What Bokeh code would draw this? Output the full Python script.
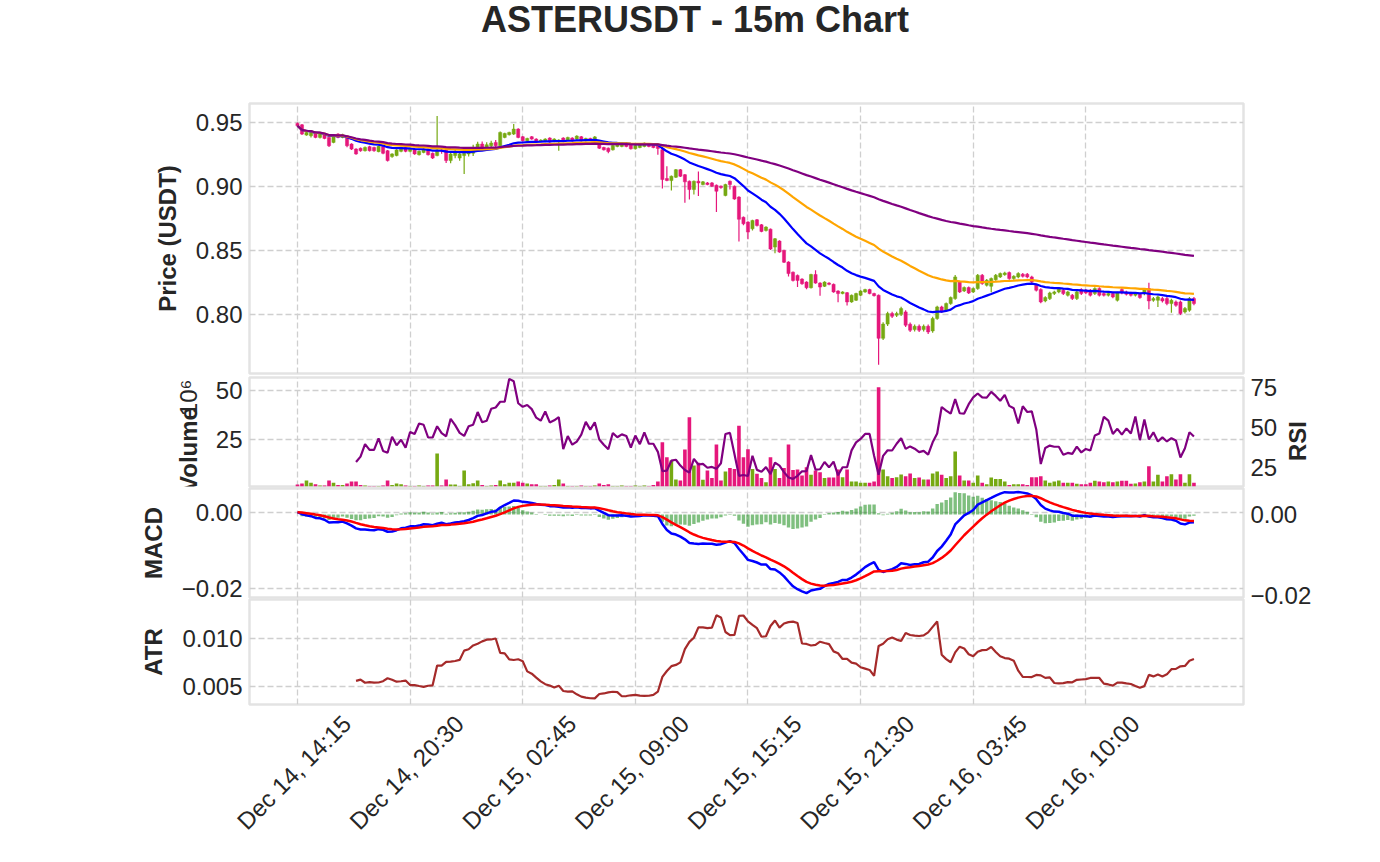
import numpy as np
import pandas as pd
from bokeh.plotting import figure
from bokeh.layouts import column, row
from bokeh.models import (Range1d, LinearAxis, FixedTicker, CustomJSTickFormatter,
                          NumeralTickFormatter, ColumnDataSource)
from bokeh.embed import file_html
from bokeh.resources import INLINE
from bokeh.core.properties import value

# ---------------- data ----------------
title_text = "ASTERUSDT - 15m Chart"
start_time = "2025-12-14 14:15"

open_ = [
    .9495, .9484, .9404, .9399, .9425, .9386, .9412, .9386, .9347, .9412,
    .9386, .9399, .9334, .9295, .9301, .9282, .9314, .9308, .9275, .9314,
    .9282, .9236, .9244, .9277, .9308, .9277, .9295, .9251, .9269, .9295,
    .9262, .9244, .9288, .9288, .9205, .9244, .9225, .9244, .9257, .9262,
    .9295, .9334, .9303, .9321, .9347, .9321, .9386, .9407, .9412, .9451,
    .9391, .9360, .9391, .9373, .9355, .9355, .9381, .9355, .9355, .9381,
    .9365, .9381, .9373, .9391, .9360, .9378, .9373, .9360, .9307, .9302,
    .9289, .9315, .9315, .9341, .9333, .9297, .9307, .9315, .9333, .9328,
    .9320, .9290, .9065, .9049, .9075, .9134, .9095, .9044, .8979, .9044,
    .9018, .9031, .9031, .9013, .9005, .8932, .9044, .9005, .8920, .8763,
    .8725, .8673, .8743, .8704, .8660, .8670, .8530, .8577, .8504, .8413,
    .8334, .8309, .8280, .8257, .8213, .8316, .8249, .8224, .8249, .8239,
    .8187, .8167, .8174, .8102, .8115, .8154, .8180, .8198, .8167, .8154,
    .7818, .7929, .8011, .7998, .8006, .8024, .7928, .7886, .7912, .7886,
    .7912, .7876, .7972, .8063, .8037, .8089, .8128, .8258, .8188, .8214,
    .8180, .8206, .8310, .8232, .8224, .8276, .8297, .8315, .8331, .8284,
    .8297, .8318, .8318, .8297, .8232, .8198, .8110, .8128, .8167, .8180,
    .8193, .8154, .8154, .8128, .8198, .8193, .8193, .8167, .8206, .8167,
    .8154, .8167, .8115, .8198, .8180, .8172, .8154, .8162, .8167, .8206,
    .8115, .8115, .8128, .8128, .8089, .8102, .8102, .8024, .8037, .8128,
]
close = [
    .9477, .9412, .9425, .9425, .9386, .9417, .9378, .9321, .9399, .9386,
    .9407, .9321, .9295, .9257, .9282, .9308, .9282, .9282, .9316, .9262,
    .9205, .9257, .9288, .9308, .9277, .9295, .9257, .9277, .9295, .9251,
    .9225, .9288, .9280, .9205, .9257, .9269, .9257, .9262, .9282, .9308,
    .9334, .9303, .9329, .9342, .9321, .9425, .9417, .9425, .9451, .9386,
    .9360, .9378, .9373, .9355, .9365, .9373, .9350, .9373, .9365, .9355,
    .9386, .9360, .9396, .9360, .9378, .9370, .9390, .9302, .9289, .9276,
    .9323, .9328, .9333, .9315, .9297, .9323, .9328, .9341, .9315, .9307,
    .9300, .9057, .9050, .9083, .9134, .9083, .9039, .8979, .9044, .9031,
    .9039, .9018, .9005, .8966, .8995, .9018, .9018, .8905, .8747, .8712,
    .8647, .8738, .8699, .8652, .8686, .8515, .8595, .8491, .8412, .8323,
    .8270, .8270, .8244, .8213, .8316, .8249, .8218, .8257, .8239, .8180,
    .8167, .8180, .8102, .8154, .8167, .8187, .8198, .8167, .8151, .7818,
    .7929, .8012, .7990, .8011, .8050, .7920, .7881, .7912, .7881, .7912,
    .7868, .7972, .8063, .8024, .8089, .8136, .8297, .8180, .8214, .8172,
    .8206, .8310, .8245, .8271, .8284, .8310, .8323, .8328, .8284, .8302,
    .8323, .8302, .8297, .8258, .8193, .8102, .8136, .8172, .8180, .8206,
    .8167, .8180, .8128, .8180, .8167, .8172, .8154, .8206, .8154, .8154,
    .8167, .8141, .8172, .8172, .8162, .8154, .8167, .8136, .8198, .8110,
    .8128, .8141, .8110, .8089, .8115, .8076, .8011, .8050, .8128, .8089,
]
high = [
    .9502, .9490, .9432, .9430, .9431, .9424, .9418, .9392, .9405, .9418,
    .9414, .9405, .9340, .9301, .9308, .9315, .9320, .9313, .9322, .9320,
    .9288, .9262, .9294, .9314, .9314, .9301, .9301, .9283, .9301, .9300,
    .9268, .9554, .9310, .9306, .9278, .9290, .9276, .9282, .9300, .9328,
    .9352, .9354, .9348, .9360, .9366, .9432, .9423, .9431, .9490, .9457,
    .9397, .9384, .9397, .9379, .9371, .9379, .9387, .9379, .9371, .9387,
    .9392, .9387, .9402, .9397, .9384, .9384, .9396, .9366, .9313, .9308,
    .9329, .9334, .9339, .9350, .9339, .9329, .9334, .9347, .9339, .9334,
    .9326, .9296, .9160, .9089, .9140, .9140, .9101, .9050, .9050, .9120,
    .9045, .9037, .9037, .9019, .9011, .9024, .9050, .9011, .8926, .8769,
    .8731, .8744, .8749, .8710, .8692, .8676, .8601, .8583, .8510, .8419,
    .8340, .8316, .8286, .8263, .8322, .8350, .8255, .8263, .8255, .8245,
    .8193, .8186, .8180, .8160, .8173, .8193, .8204, .8204, .8173, .8160,
    .7943, .8026, .8025, .8025, .8064, .8038, .7942, .7926, .7926, .7926,
    .7926, .7986, .8072, .8072, .8098, .8145, .8313, .8267, .8223, .8223,
    .8215, .8319, .8319, .8280, .8293, .8319, .8332, .8337, .8340, .8311,
    .8333, .8328, .8328, .8307, .8242, .8208, .8146, .8182, .8190, .8216,
    .8203, .8190, .8164, .8190, .8208, .8203, .8203, .8216, .8216, .8177,
    .8177, .8177, .8182, .8208, .8190, .8182, .8177, .8172, .8210, .8251,
    .8140, .8153, .8140, .8140, .8127, .8114, .8114, .8062, .8140, .8140,
]
low = [
    .9470, .9405, .9398, .9385, .9380, .9378, .9372, .9312, .9340, .9380,
    .9380, .9310, .9288, .9250, .9275, .9276, .9276, .9275, .9270, .9255,
    .9198, .9228, .9238, .9270, .9270, .9270, .9250, .9245, .9262, .9245,
    .9218, .9238, .9258, .9186, .9184, .9224, .9204, .9101, .9236, .9240,
    .9275, .9282, .9284, .9302, .9302, .9315, .9380, .9400, .9405, .9380,
    .9353, .9354, .9367, .9349, .9349, .9349, .9344, .9349, .9282, .9349,
    .9359, .9354, .9367, .9354, .9354, .9364, .9367, .9296, .9283, .9263,
    .9283, .9309, .9309, .9309, .9291, .9291, .9301, .9309, .9309, .9301,
    .9250, .8987, .9044, .8972, .9069, .9077, .8876, .8902, .8941, .8928,
    .9012, .9012, .8999, .8804, .8985, .8926, .8979, .8899, .8574, .8700,
    .8592, .8660, .8690, .8645, .8652, .8508, .8481, .8485, .8405, .8300,
    .8262, .8218, .8236, .8200, .8206, .8243, .8150, .8218, .8233, .8174,
    .8100, .8161, .8075, .8096, .8109, .8148, .8174, .8161, .8145, .7612,
    .7804, .7915, .7976, .7984, .7992, .7906, .7867, .7872, .7867, .7872,
    .7852, .7862, .7963, .8015, .8028, .8080, .8119, .8171, .8179, .8163,
    .8171, .8197, .8236, .8223, .8177, .8267, .8288, .8306, .8275, .8275,
    .8287, .8292, .8287, .8248, .8183, .8092, .8100, .8118, .8157, .8170,
    .8157, .8144, .8118, .8118, .8157, .8162, .8144, .8157, .8144, .8144,
    .8144, .8131, .8105, .8162, .8152, .8144, .8144, .8126, .8155, .8044,
    .8103, .8062, .8098, .8077, .8018, .8064, .7999, .8012, .8025, .8077,
]
volume_millions = [
    2.0, 2.5, 4.1, 2.9, 2.2, 1.5, 1.5, 4.1, 2.9, 1.8,
    1.8, 2.5, 3.6, 3.6, 1.8, 1.5, 1.3, 1.3, 1.3, 1.5,
    4.1, 1.8, 2.5, 2.2, 1.5, 1.3, 1.3, 1.5, 1.3, 1.5,
    1.5, 17.9, 1.5, 4.6, 2.0, 2.0, 1.3, 9.2, 2.2, 2.7,
    4.1, 1.8, 1.3, 1.5, 1.8, 4.1, 2.2, 2.9, 2.9, 3.6,
    2.9, 2.5, 2.2, 2.2, 1.3, 1.3, 1.5, 1.8, 4.6, 2.5,
    1.3, 1.3, 1.3, 1.5, 1.3, 1.3, 1.5, 2.5, 1.8, 2.2,
    1.3, 1.3, 1.5, 1.3, 1.3, 1.5, 1.3, 1.5, 1.3, 1.8,
    3.6, 23.6, 16.0, 14.3, 4.6, 4.1, 19.9, 36.4, 11.7, 13.1,
    4.4, 9.2, 5.3, 22.4, 4.1, 8.7, 10.5, 9.9, 32.0, 16.0,
    20.0, 9.9, 7.5, 5.3, 3.2, 16.0, 9.9, 5.3, 10.5, 22.4,
    9.4, 9.7, 6.6, 10.9, 7.0, 9.2, 8.3, 5.3, 5.6, 5.6,
    9.7, 5.8, 9.7, 3.6, 3.6, 2.9, 2.9, 2.9, 3.6, 51.7,
    9.7, 6.3, 5.3, 5.8, 7.1, 6.3, 7.6, 5.3, 5.6, 4.6,
    4.6, 7.6, 8.7, 7.0, 5.3, 6.3, 18.9, 6.6, 4.1, 4.1,
    2.9, 6.6, 2.9, 2.2, 5.6, 4.9, 4.9, 3.6, 1.8, 2.2,
    2.2, 2.2, 1.8, 5.8, 5.8, 6.3, 4.1, 2.9, 3.6, 4.1,
    2.9, 2.9, 2.9, 2.4, 2.2, 2.2, 2.9, 3.9, 3.6, 3.2,
    3.6, 3.2, 3.6, 3.9, 3.9, 2.4, 2.5, 3.2, 3.6, 11.4,
    3.6, 7.0, 3.6, 6.3, 7.3, 4.6, 7.3, 2.9, 7.3, 2.9,
]
tick_index = [0, 25, 50, 75, 100, 125, 150, 175]
tick_labels = ["Dec 14, 14:15", "Dec 14, 20:30", "Dec 15, 02:45", "Dec 15, 09:00",
               "Dec 15, 15:15", "Dec 15, 21:30", "Dec 16, 03:45", "Dec 16, 10:00"]
price_ticks = [0.80, 0.85, 0.90, 0.95]
volume_ticks = [25, 50]
rsi_ticks = [25, 50, 75]
macd_ticks = [-0.02, 0.0]
atr_ticks = [0.005, 0.010]

# ---------------- indicators ----------------
df = pd.DataFrame(dict(open=open_, high=high, low=low, close=close, vol=volume_millions))
t = pd.date_range(start_time, periods=len(df), freq="15min")
STEP = 15 * 60 * 1000
df["t"] = (t.astype("int64") // 10**6).astype(float)
c = df["close"]
df["ema20"] = c.ewm(span=20).mean()
df["ema50"] = c.ewm(span=50).mean()
df["ema200"] = c.ewm(span=200).mean()
ema12 = c.ewm(span=12, adjust=False).mean()
ema26 = c.ewm(span=26, adjust=False).mean()
df["macd"] = ema12 - ema26
df["signal"] = df["macd"].ewm(span=9, adjust=False).mean()
df["hist"] = df["macd"] - df["signal"]
delta = c.diff()
gain = delta.where(delta > 0, 0.0).rolling(14).mean()
loss = (-delta.where(delta < 0, 0.0)).rolling(14).mean()
df["rsi"] = 100 - 100 / (1 + gain / loss)
prev = c.shift(1)
tr = pd.concat([df["high"] - df["low"], (df["high"] - prev).abs(), (df["low"] - prev).abs()], axis=1).max(axis=1)
df["atr"] = tr.rolling(14).mean()

UP, DOWN = "#76A912", "#E5177B"
df["color"] = np.where(df["close"] >= df["open"], UP, DOWN)
df["top"] = df[["open", "close"]].max(axis=1)
df["bottom"] = df[["open", "close"]].min(axis=1)
src = ColumnDataSource(df)

# ---------------- styling ----------------
FONT = "Liberation Sans"
TXT = "#262626"
W = 1364
LB, RB = 249, 121
t0 = df["t"].iloc[0]
xr = Range1d(t0 - 10.65 * STEP, t0 + 210.0 * STEP)
grid_ticks = [float(df["t"].iloc[i]) for i in tick_index]


def style_axis(ax, label=None):
    ax.axis_line_color = None
    ax.major_tick_line_color = None
    ax.minor_tick_line_color = None
    ax.major_tick_out = 0
    ax.major_tick_in = 0
    ax.major_label_text_font = FONT
    ax.major_label_text_font_size = "24px"
    ax.major_label_text_color = TXT
    ax.major_label_standoff = 7
    ax.axis_label_text_font = FONT
    ax.axis_label_text_font_style = "bold"
    ax.axis_label_text_font_size = "24px"
    ax.axis_label_text_color = TXT
    ax.axis_label_standoff = 12
    if label is not None:
        ax.axis_label = label


def panel(height, top, bottom, yr, with_x=False, width=W, left=LB, right=RB):
    p = figure(width=width, height=height, x_range=xr, y_range=yr,
               x_axis_type="datetime", x_axis_location=("below" if with_x else None),
               output_backend="svg", toolbar_location=None,
               min_border_left=left, min_border_right=right,
               min_border_top=top, min_border_bottom=bottom)
    p.background_fill_color = "white"
    p.border_fill_color = None
    p.outline_line_color = "#e3e3e3"
    p.outline_line_width = 2.5
    p.xgrid.ticker = FixedTicker(ticks=grid_ticks)
    for g in (p.xgrid, p.ygrid):
        g.grid_line_color = "#cfcfcf"
        g.grid_line_dash = "6 3"
        g.grid_line_width = 1.3
    for ax in p.yaxis:
        style_axis(ax)
    return p


def text_fig(width, height, x0, y0):
    # a blank canvas whose data coordinates equal page pixels (y downwards)
    f = figure(width=width, height=height, x_range=Range1d(x0, x0 + width),
               y_range=Range1d(y0 + height, y0), x_axis_location=None, y_axis_location=None,
               output_backend="svg", toolbar_location=None, min_border=0)
    f.grid.visible = False
    f.outline_line_color = None
    f.background_fill_color = None
    f.border_fill_color = None
    return f


def minus_fmt(digits):
    return CustomJSTickFormatter(code="""
        const s = Math.abs(tick) < 1e-12 ? (0).toFixed(%d) : tick.toFixed(%d);
        return s.replace('-', '\\u2212');
    """ % (digits, digits))


# title (anchored at its right end)
pt = text_fig(W, 100, 0, 0)
pt.text(x=[905], y=[19], text=[title_text], text_align="right", text_baseline="middle",
        text_font=value(FONT), text_font_style="bold", text_font_size="36px", text_color=TXT)

# price panel
p1 = panel(275, 3, 2, Range1d(0.75434, 0.96506))
p1.yaxis.ticker = FixedTicker(ticks=price_ticks)
p1.yaxis.formatter = NumeralTickFormatter(format="0.00")
p1.yaxis.axis_label = "Price (USDT)"
p1.segment(x0="t", y0="low", x1="t", y1="high", color="color", line_width=1.2, source=src)
p1.vbar(x="t", top="top", bottom="bottom", width=0.7 * STEP, fill_color="color",
        line_color="color", line_width=0.5, source=src)
p1.line("t", "ema20", color="blue", line_width=2.2, source=src)
p1.line("t", "ema50", color="orange", line_width=2.2, source=src)
p1.line("t", "ema200", color="purple", line_width=2.2, source=src)

# volume + RSI panel (with side canvases for its labels)
LW, RW = 210, 84
p2 = panel(155, 22, 24, Range1d(1.02, 56.63), width=W - LW - RW, left=LB - LW, right=W - RW - 1243)
p2.yaxis.ticker = FixedTicker(ticks=volume_ticks)
p2.extra_y_ranges = {"rsi": Range1d(12.94, 81.06)}
rax = LinearAxis(y_range_name="rsi", ticker=FixedTicker(ticks=rsi_ticks))
style_axis(rax)
p2.add_layout(rax, "right")
p2.vbar(x="t", top="vol", bottom=0, width=0.8 * STEP, fill_color="color", line_color=None, source=src)
p2.line("t", "rsi", color="purple", line_width=2.2, y_range_name="rsi", source=src)

# rotated texts anchored at their upper end
vl = text_fig(LW, 155, 0, 355)
vl.text(x=[188], y=[397], text=["Volume"], angle=np.pi / 2, text_align="right", text_baseline="middle",
        text_font=value(FONT), text_font_style="bold", text_font_size="24px", text_color=TXT)
vl.text(x=[188], y=[358], text=["10\u2076"], angle=np.pi / 2, text_align="right", text_baseline="middle",
        text_font=value(FONT), text_font_size="24px", text_color=TXT)
vr = text_fig(RW, 155, W - RW, 355)
vr.text(x=[1297], y=[417], text=["RSI"], angle=np.pi / 2, text_align="right", text_baseline="middle",
        text_font=value(FONT), text_font_style="bold", text_font_size="24px", text_color=TXT)
vol_row = row(vl, p2, vr, spacing=0)

# MACD panel
p3 = panel(124, 1, 14, Range1d(-0.02245, 0.00624))
p3.yaxis.ticker = FixedTicker(ticks=macd_ticks)
p3.yaxis.formatter = minus_fmt(2)
p3.yaxis.axis_label = "MACD"
p3.extra_y_ranges = {"hist": Range1d(-0.0205, 0.00642)}
hax = LinearAxis(y_range_name="hist", ticker=FixedTicker(ticks=macd_ticks), formatter=minus_fmt(2))
style_axis(hax)
p3.add_layout(hax, "right")
p3.vbar(x="t", top="hist", bottom=0, width=0.75 * STEP, fill_color="green", fill_alpha=0.5,
        line_color=None, y_range_name="hist", source=src)
p3.line("t", "macd", color="blue", line_width=2.5, source=src)
p3.line("t", "signal", color="red", line_width=2.5, source=src)

# ATR panel
p4 = panel(249, 1, 140, Range1d(0.00305, 0.01412), with_x=True)
p4.yaxis.ticker = FixedTicker(ticks=atr_ticks)
p4.yaxis.formatter = NumeralTickFormatter(format="0.000")
p4.yaxis.axis_label = "ATR"
p4.line("t", "atr", color="brown", line_width=2.2, source=src)
SHIFT = 10.95 * STEP
label_pos = [g + SHIFT for g in grid_ticks]
xa = p4.xaxis[0]
style_axis(xa)
xa.ticker = FixedTicker(ticks=label_pos)
xa.formatter = CustomJSTickFormatter(args=dict(pos=label_pos, labels=tick_labels), code="""
    let best = 0, bd = Infinity;
    for (let i = 0; i < pos.length; i++) { const d = Math.abs(pos[i] - tick); if (d < bd) { bd = d; best = i; } }
    return labels[best];
""")
xa.major_label_orientation = np.pi / 4
xa.major_label_standoff = 15

vol_row.margin = (-20, 0, 0, 0)
p3.margin = (-23, 0, 0, 0)
p4.margin = (-13, 0, 0, 0)
try:
    vol_row.styles = {"z-index": "5", "position": "relative"}
except Exception:
    pass

layout = column(pt, p1, vol_row, p3, p4, spacing=0)
open("out.html", "w").write(file_html(layout, INLINE))
